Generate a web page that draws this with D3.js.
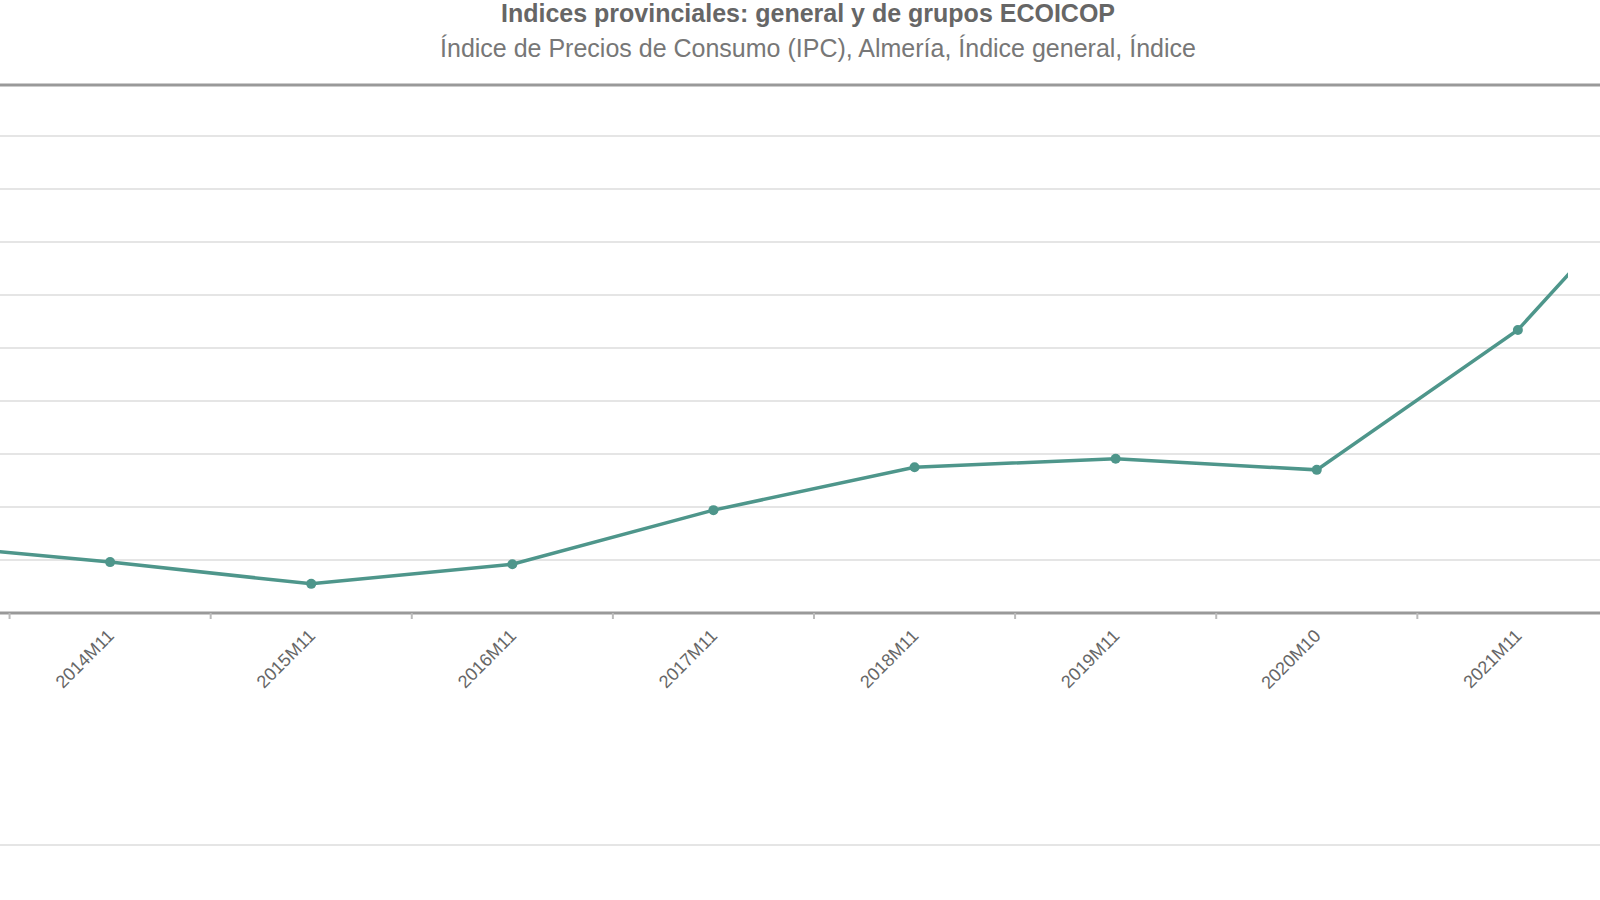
<!DOCTYPE html>
<html><head><meta charset="utf-8">
<script src="https://cdn.jsdelivr.net/npm/d3@7"></script>
<style>body{margin:0;background:#fff;font-family:Arial,"Liberation Sans",sans-serif}</style>
</head><body><svg id="chart" width="1600" height="900"></svg>
<script>
// periods and index values
const periods = ["2013M11","2014M11","2015M11","2016M11","2017M11","2018M11","2019M11","2020M10","2021M11","2022M11"];
const values = [95.32, 94.96, 94.55, 94.92, 95.94, 96.75, 96.91, 96.70, 99.34, 103.5];
const gridValues = [95, 96, 97, 98, 99, 100, 101, 102, 103];

const svg = d3.select("#chart");
const plotLeft = 0, plotRight = 1568, plotTop = 85, plotBottom = 613;

const x = d3.scalePoint().domain(periods).range([-91, 1719]);
const y = d3.scaleLinear().domain([94, 103.96]).range([plotBottom, plotTop]);

svg.append("text").attr("x", 808).attr("y", 22).attr("text-anchor", "middle")
  .attr("font-size", 25).attr("font-weight", "bold").attr("fill", "#666")
  .text("Indices provinciales: general y de grupos ECOICOP");
svg.append("text").attr("x", 818).attr("y", 57).attr("text-anchor", "middle")
  .attr("font-size", 25).attr("fill", "#777")
  .text("Índice de Precios de Consumo (IPC), Almería, Índice general, Índice");

// grid
svg.selectAll(".grid").data(gridValues).enter().append("line")
  .attr("x1", plotLeft).attr("x2", 1600).attr("y1", d => y(d)).attr("y2", d => y(d))
  .attr("stroke", "#ddd").attr("stroke-width", 1.5);
svg.append("line").attr("x1", 0).attr("x2", 1600).attr("y1", plotTop).attr("y2", plotTop)
  .attr("stroke", "#999").attr("stroke-width", 3);
svg.append("line").attr("x1", 0).attr("x2", 1600).attr("y1", plotBottom).attr("y2", plotBottom)
  .attr("stroke", "#999").attr("stroke-width", 3);
svg.append("line").attr("x1", 0).attr("x2", 1600).attr("y1", 845).attr("y2", 845)
  .attr("stroke", "#ddd").attr("stroke-width", 1.5);

// x ticks between periods
const step = x.step();
periods.forEach(p => {
  const tx = x(p) + step / 2;
  if (tx > 0 && tx < 1600) svg.append("line").attr("x1", tx).attr("x2", tx)
    .attr("y1", plotBottom).attr("y2", plotBottom + 6).attr("stroke", "#bbb").attr("stroke-width", 2);
});
svg.selectAll(".lbl").data(periods).enter().append("text")
  .attr("transform", d => `translate(${x(d) + 5},${plotBottom + 24}) rotate(-45)`)
  .attr("text-anchor", "end").attr("font-size", 18).attr("fill", "#666").text(d => d);

const g = svg.append("g");
g.append("clipPath").attr("id", "clip").append("rect")
  .attr("x", plotLeft).attr("y", plotTop).attr("width", plotRight - plotLeft).attr("height", plotBottom - plotTop);
const plot = g.append("g").attr("clip-path", "url(#clip)");
const data = periods.map((p, i) => ({p, v: values[i]}));
plot.append("path").datum(data)
  .attr("d", d3.line().x(d => x(d.p)).y(d => y(d.v)))
  .attr("fill", "none").attr("stroke", "#4e968b").attr("stroke-width", 3.5);
plot.selectAll("circle").data(data).enter().append("circle")
  .attr("cx", d => x(d.p)).attr("cy", d => y(d.v)).attr("r", 5).attr("fill", "#4e968b");
</script></body></html>
